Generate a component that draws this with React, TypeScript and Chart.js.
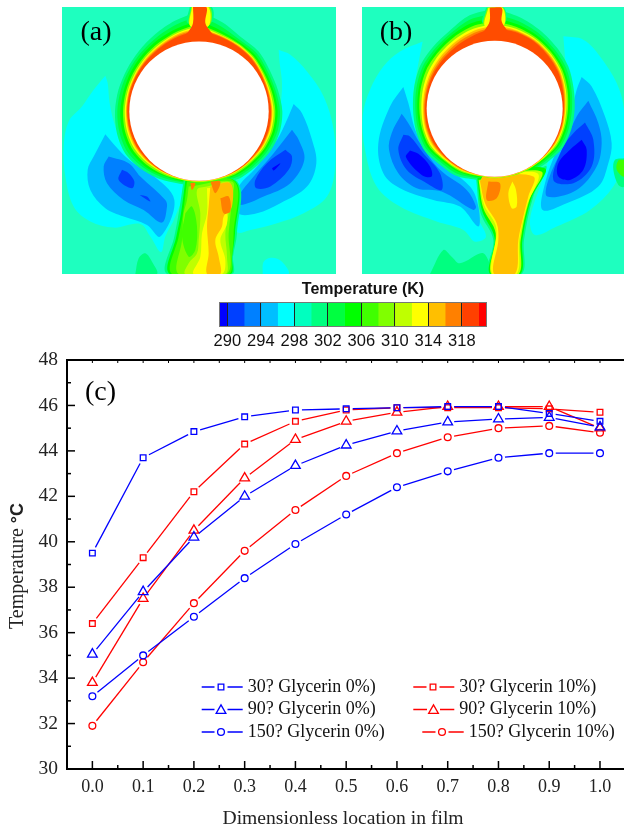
import React, { useEffect, useRef } from "react";
import { Chart, registerables } from "chart.js";
import { drawPoint } from "chart.js/helpers";

Chart.register(...registerables);

// ---------- Line chart data ----------
const locations = [0, 0.1, 0.2, 0.3, 0.4, 0.5, 0.6, 0.7, 0.8, 0.9, 1.0];
const minorLocations = [0.05, 0.15, 0.25, 0.35, 0.45, 0.55, 0.65, 0.75, 0.85, 0.95];
const minorTemps = [31, 33, 35, 37, 39, 41, 43, 45, 47];
const blue30 = [39.5, 43.7, 44.85, 45.5, 45.8, 45.85, 45.9, 45.95, 45.95, 45.65, 45.3];
const red30 = [36.4, 39.3, 42.2, 44.3, 45.3, 45.8, 45.9, 45.9, 45.9, 45.85, 45.7];
const blue90 = [35.05, 37.8, 40.2, 42.0, 43.35, 44.25, 44.87, 45.27, 45.4, 45.47, 45.05];
const red90 = [33.8, 37.5, 40.5, 42.8, 44.5, 45.3, 45.7, 45.95, 45.95, 45.95, 45.0];
const blue150 = [33.2, 35.0, 36.7, 38.4, 39.9, 41.2, 42.4, 43.1, 43.7, 43.9, 43.9];
const red150 = [31.9, 34.7, 37.3, 39.6, 41.4, 42.9, 43.9, 44.6, 45.0, 45.1, 44.8];
const seriesLabels = [
  "30? Glycerin 0%)", "30? Glycerin 10%)",
  "90? Glycerin 0%)", "90? Glycerin 10%)",
  "150? Glycerin 0%)", "150? Glycerin 10%)",
];

// ---------- Colour bar data ----------
const barEdges = [289, 290, 292, 294, 296, 298, 300, 302, 304, 306, 308, 310, 312, 314, 316, 318, 320, 321];
const barColors = ["#0000ff", "#0040ff", "#0080ff", "#00bfff", "#00ffff", "#00ffbf", "#00ff80", "#00ff40", "#00ff00", "#40ff00", "#80ff00", "#bfff00", "#ffff00", "#ffbf00", "#ff8000", "#ff4000", "#ff0000"];
const barTicks = [290, 294, 298, 302, 306, 310, 314, 318];

// ---------- Contour data: temperature band outlines ----------
type P = [number, number];
const C = { b0: "#0000ff", b1: "#0040ff", b2: "#0080ff", b3: "#00bfff", c: "#00ffff", m: "#1effbf", g0: "#00ff80", g1: "#00ff40", g2: "#00ff00", g3: "#40ff00", g4: "#80ff00", g5: "#bfff00", y: "#ffff00", o0: "#ffbf00", o1: "#ff8000", r: "#ff4c00" };

const ringA: [string, number[]][] = [
  [C.g0, [300, 275, 255, 253, 245, 245, 250, 250, 245, 238, 235, 225, 225, 225, 235, 245, 255, 255, 252, 250, 250, 255, 265, 280]],
  [C.g1, [285, 262, 246, 245, 238, 238, 243, 243, 238, 232, 228, 220, 220, 220, 228, 238, 247, 247, 245, 243, 243, 247, 255, 268]],
  [C.g2, [272, 250, 240, 238, 232, 232, 236, 236, 232, 226, 222, 216, 216, 216, 222, 232, 238, 238, 236, 234, 236, 240, 247, 256]],
  [C.g4, [262, 242, 235, 232, 226, 226, 229, 229, 226, 220, 218, 213, 213, 213, 218, 225, 230, 230, 228, 227, 228, 232, 238, 248]],
  [C.y, [255, 238, 232, 228, 222, 221, 224, 224, 221, 216, 214, 211, 211, 211, 214, 219, 224, 224, 223, 222, 223, 227, 233, 243]],
];
const ringAHot: [string, number[]][] = [
  [C.o0, [250, 236, 230, 226, 220, 218, 220, 220, 218, 214, 212, 210, 210, 210, 212, 216, 220, 220, 219, 219, 220, 224, 230, 240]],
  [C.o1, [246, 234, 228, 224, 218, 216, 218, 218, 216, 212, 211, 209, 209, 209, 211, 214, 217, 217, 217, 217, 218, 221, 227, 236]],
  [C.r, [242, 232, 226, 222, 216, 214, 216, 216, 214, 211, 210, 208, 208, 208, 210, 212, 215, 215, 215, 215, 216, 219, 224, 232]],
];
const ringB: [string, number[]][] = [
  [C.g0, [300, 285, 272, 262, 255, 245, 240, 238, 235, 225, 220, 220, 220, 220, 232, 235, 245, 245, 245, 250, 258, 262, 270, 290]],
  [C.g1, [285, 272, 262, 253, 247, 238, 232, 230, 228, 219, 215, 215, 215, 215, 225, 228, 238, 238, 238, 243, 250, 254, 262, 278]],
  [C.g2, [272, 262, 254, 246, 240, 232, 226, 224, 222, 214, 211, 211, 211, 211, 218, 222, 232, 232, 232, 236, 243, 247, 255, 266]],
  [C.g4, [262, 254, 247, 240, 234, 226, 220, 218, 217, 210, 208, 208, 208, 208, 214, 217, 226, 226, 226, 230, 236, 240, 247, 256]],
  [C.y, [255, 248, 242, 235, 229, 221, 215, 214, 213, 208, 206, 206, 206, 206, 211, 214, 221, 221, 220, 223, 228, 233, 240, 248]],
];
const ringBHot: [string, number[]][] = [
  [C.o0, [250, 244, 239, 232, 226, 218, 212, 211, 210, 206, 205, 205, 205, 205, 209, 211, 216, 216, 215, 217, 221, 226, 233, 242]],
  [C.o1, [246, 241, 236, 229, 223, 215, 210, 209, 208, 205, 204, 204, 204, 204, 207, 209, 213, 213, 212, 213, 216, 220, 227, 236]],
  [C.r, [242, 238, 234, 226, 220, 212, 208, 207, 206, 204, 203, 203, 203, 203, 205, 207, 210, 210, 209, 210, 212, 215, 221, 230]],
];

const coldA: [string, P[]][] = [
  [C.c, [[165, 228], [130, 270], [95, 320], [55, 365], [40, 440], [45, 530], [70, 620], [120, 665], [190, 683], [270, 672], [300, 710], [332, 757], [345, 710], [375, 650], [400, 560], [340, 500], [230, 450], [195, 380], [178, 310], [172, 250]]],
  [C.c, [[685, 150], [720, 165], [770, 215], [820, 290], [850, 390], [855, 500], [830, 590], [760, 640], [680, 670], [600, 690], [560, 695], [555, 560], [640, 480], [680, 400], [690, 330], [695, 250], [688, 190]]],
  [C.c, [[637, 822], [640, 785], [665, 773], [695, 785], [715, 822]]],
  [C.g0, [[255, 822], [265, 775], [285, 760], [305, 785], [320, 822]]],
  [C.b3, [[165, 403], [130, 470], [112, 510], [120, 570], [165, 625], [220, 650], [290, 675], [330, 710], [372, 600], [300, 520], [250, 490], [215, 460]]],
  [C.b3, [[730, 313], [755, 340], [785, 420], [798, 490], [770, 560], [690, 610], [620, 640], [565, 640], [560, 570], [620, 500], [680, 420], [710, 360]]],
  [C.b2, [[175, 470], [160, 500], [170, 550], [220, 600], [280, 630], [335, 668], [350, 620], [345, 600], [270, 530], [235, 490]]],
  [C.b2, [[725, 390], [745, 420], [762, 480], [720, 550], [640, 590], [570, 615], [565, 590], [610, 530], [670, 460]]],
  [C.b1, [[215, 510], [205, 540], [245, 565], [252, 545], [235, 520]]],
  [C.b1, [[268, 585], [300, 605], [290, 590]]],
  [C.b1, [[705, 450], [725, 470], [715, 510], [660, 560], [618, 565], [615, 540], [650, 490]]],
  [C.b0, [[665, 505], [690, 490], [670, 512]]],
];
const stemA: [string, P[]][] = [
  [C.g0, [[400, 540], [385, 640], [372, 710], [350, 822], [545, 822], [548, 770], [560, 700], [560, 545]]],
  [C.g2, [[405, 542], [392, 640], [378, 710], [358, 822], [540, 822], [545, 770], [554, 700], [556, 545]]],
  [C.g3, [[410, 545], [398, 640], [385, 710], [365, 822], [535, 822], [545, 770], [550, 700], [553, 545]]],
  [C.g4, [[415, 560], [410, 600], [400, 640], [395, 720], [385, 822], [530, 822], [535, 700], [545, 600], [545, 545]]],
  [C.g3, [[405, 640], [425, 620], [440, 680], [435, 750], [415, 770], [395, 710]]],
  [C.g5, [[470, 560], [440, 570], [450, 640], [445, 720], [440, 760], [415, 790], [405, 822], [525, 822], [530, 770], [525, 700], [535, 640], [540, 550]]],
  [C.y, [[470, 565], [470, 640], [455, 700], [450, 770], [430, 822], [515, 822], [525, 780], [510, 720], [530, 670], [530, 600], [540, 560]]],
  [C.o0, [[480, 560], [475, 620], [470, 680], [475, 760], [470, 822], [510, 822], [505, 770], [495, 720], [515, 680], [520, 650], [545, 620], [540, 550]]],
  [C.o1, [[510, 595], [535, 590], [540, 635], [520, 640]]],
  [C.o1, [[480, 545], [510, 545], [495, 580]]],
  [C.o1, [[420, 550], [435, 550], [425, 570]]],
];
const neckA: [string, P[]][] = [
  [C.g0, [[418, 22], [484, 22], [482, 70], [412, 70]]],
  [C.g4, [[423, 22], [478, 22], [478, 75], [418, 75]]],
  [C.y, [[425, 22], [474, 22], [474, 80], [420, 80]]],
];
const neckARed: P[] = [[428, 22], [468, 22], [465, 70], [480, 95], [495, 118], [395, 118], [415, 95], [428, 70]];

const coldB: [string, P[]][] = [
  [C.c, [[218, 125], [150, 155], [100, 200], [60, 270], [38, 350], [45, 450], [80, 560], [150, 620], [260, 665], [340, 690], [375, 725], [408, 710], [380, 640], [400, 520], [280, 470], [210, 390], [190, 300], [200, 220]]],
  [C.c, [[640, 110], [700, 120], [750, 170], [800, 250], [822, 330], [822, 480], [790, 560], [720, 630], [620, 680], [555, 705], [540, 660], [570, 560], [600, 470], [650, 370], [650, 250]]],
  [C.g0, [[240, 822], [280, 750], [305, 770], [330, 790], [400, 760], [415, 822]]],
  [C.g0, [[822, 475], [795, 480], [790, 510], [805, 555], [822, 560]]],
  [C.g3, [[822, 480], [805, 482], [800, 510], [822, 530]]],
  [C.b3, [[160, 262], [120, 320], [85, 430], [100, 520], [150, 565], [250, 600], [330, 620], [385, 680], [385, 620], [360, 560], [250, 470], [200, 400], [175, 310]]],
  [C.b3, [[695, 232], [725, 260], [765, 350], [785, 430], [775, 490], [745, 560], [650, 610], [578, 630], [585, 550], [620, 450], [660, 350], [680, 270]]],
  [C.b2, [[155, 342], [125, 400], [117, 450], [145, 520], [200, 565], [275, 575], [370, 630], [378, 620], [350, 570], [270, 510], [210, 430], [175, 370]]],
  [C.b2, [[715, 303], [745, 370], [755, 430], [740, 500], [680, 570], [592, 590], [595, 540], [640, 440], [680, 350]]],
  [C.b1, [[160, 405], [145, 450], [170, 510], [230, 550], [275, 570], [270, 520], [220, 460], [180, 410]]],
  [C.b1, [[705, 368], [730, 420], [725, 500], [670, 550], [610, 540], [640, 440], [670, 400]]],
  [C.b0, [[180, 452], [168, 472], [215, 525], [245, 530], [240, 500], [205, 462]]],
  [C.b0, [[695, 420], [710, 450], [700, 510], [660, 540], [625, 530], [625, 490], [660, 450]]],
];
const stemB: [string, P[]][] = [
  [C.g0, [[378, 535], [392, 640], [430, 720], [415, 822], [515, 822], [522, 720], [550, 590], [590, 500], [540, 520]]],
  [C.g2, [[382, 535], [396, 632], [434, 716], [420, 822], [511, 822], [517, 720], [544, 596], [584, 505]]],
  [C.g5, [[386, 540], [400, 625], [437, 700], [424, 822], [506, 822], [512, 720], [538, 600], [574, 515]]],
  [C.y, [[388, 545], [403, 617], [439, 685], [427, 822], [500, 822], [508, 720], [530, 620], [562, 520]]],
  [C.o0, [[390, 545], [405, 610], [440, 670], [445, 720], [432, 822], [495, 822], [505, 720], [520, 650], [535, 590], [550, 530], [400, 530]]],
  [C.y, [[487, 545], [475, 580], [485, 625], [500, 620], [498, 570]]],
  [C.o1, [[415, 545], [410, 600], [440, 595], [450, 550]]],
];
const neckB: [string, P[]][] = [
  [C.g0, [[408, 24], [462, 24], [464, 70], [398, 70]]],
  [C.g4, [[412, 24], [460, 24], [462, 75], [402, 75]]],
  [C.y, [[415, 24], [458, 24], [460, 80], [405, 80]]],
];
const neckBRed: P[] = [[419, 24], [455, 24], [455, 65], [470, 90], [490, 115], [385, 115], [405, 90], [419, 65]];

// ---------- Helpers ----------
const font = (size: number, family: string, weight = "normal") => ({ size, family, weight, lineHeight: 1.2 });
const SERIF = "'Liberation Serif'";
const SANS = "'Liberation Sans'";

const ringPoints = (cx: number, cy: number, radii: number[]) => {
  const pts = radii.map((r, i) => {
    const a = (i * 15 * Math.PI) / 180;
    return { x: cx + r * Math.sin(a), y: cy - r * Math.cos(a) };
  });
  return [...pts, pts[0]];
};
const polyDataset = (color: string, data: { x: number; y: number }[], tension = 0.35) => ({
  data, showLine: true, fill: "shape", backgroundColor: color, borderWidth: 0, pointRadius: 0, tension,
});
const poly = ([color, pts]: [string, P[]]) => {
  const data = pts.map(([x, y]) => ({ x, y }));
  return polyDataset(color, [...data, data[0]]);
};

const panelLabel = (text: string, x: number, y: number) => ({
  id: "panelLabel",
  afterDraw(chart: any) {
    const { ctx, scales } = chart;
    ctx.save();
    ctx.fillStyle = "#000";
    ctx.font = `28px ${SERIF}`;
    ctx.textAlign = "center";
    ctx.textBaseline = "middle";
    ctx.fillText(text, scales.x.getPixelForValue(x), scales.y.getPixelForValue(y));
    ctx.restore();
  },
});

function panelConfig(layers: any[], disc: { x: number; y: number }, discRadius: number, range: number[], label: any) {
  const datasets = [
    ...layers,
    { data: [disc], pointRadius: discRadius, pointBackgroundColor: "#fff", pointBorderWidth: 0, pointHoverRadius: discRadius },
  ].map((d, i, all) => ({ ...d, order: all.length - i }));
  return {
    type: "scatter",
    data: { datasets },
    options: {
      responsive: false, animation: false, events: [],
      layout: { padding: 0, autoPadding: false },
      plugins: { legend: { display: false }, tooltip: { enabled: false } },
      scales: {
        x: { type: "linear", display: false, min: range[0], max: range[1] },
        y: { type: "linear", display: false, min: range[2], max: range[3], reverse: true },
      },
    },
    plugins: [label],
  };
}

const seriesStyles = [
  { data: blue30, color: "#0000ff", style: "rect", r: 4 },
  { data: red30, color: "#ff0000", style: "rect", r: 4 },
  { data: blue90, color: "#0000ff", style: "triangle", r: 5.6 },
  { data: red90, color: "#ff0000", style: "triangle", r: 5.6 },
  { data: blue150, color: "#0000ff", style: "circle", r: 3.4 },
  { data: red150, color: "#ff0000", style: "circle", r: 3.4 },
];

const GAP = 6.5;
const gapped = (ctx: any) => {
  const L = Math.hypot(ctx.p1.x - ctx.p0.x, ctx.p1.y - ctx.p0.y);
  const len = Math.max(L - 2 * GAP, 0.01) + ctx.p0DataIndex * 1e-3;
  return [len, 2000];
};

const axisMarks = {
  id: "axisMarks",
  afterDraw(chart: any) {
    const { ctx, chartArea: a, scales } = chart;
    ctx.save();
    ctx.strokeStyle = "#000";
    const line = (x0: number, y0: number, x1: number, y1: number, w: number) => {
      ctx.lineWidth = w;
      ctx.beginPath(); ctx.moveTo(x0, y0); ctx.lineTo(x1, y1); ctx.stroke();
    };
    line(a.left - 1, a.top, a.right, a.top, 2);
    locations.forEach((v) => {
      const x = scales.x.getPixelForValue(v);
      line(x, a.bottom, x, a.bottom - 8, 1.5);
      line(x, a.top, x, a.top + 3, 1);
    });
    minorLocations.forEach((v) => {
      const x = scales.x.getPixelForValue(v);
      line(x, a.bottom, x, a.bottom - 4, 1.5);
      line(x, a.top, x, a.top + 3, 1);
    });
    [30, 32, 34, 36, 38, 40, 42, 44, 46].forEach((v) => {
      const y = scales.y.getPixelForValue(v);
      line(a.left, y, a.left + 8, y, 1.5);
    });
    minorTemps.forEach((v) => {
      const y = scales.y.getPixelForValue(v);
      line(a.left, y, a.left + 4, y, 1.5);
    });
    // panel tag
    ctx.fillStyle = "#000";
    ctx.font = `28px ${SERIF}`;
    ctx.textAlign = "left";
    ctx.textBaseline = "middle";
    ctx.fillText("(c)", 85, 393 - chart.canvas.offsetTop);
    // y title, two fonts as in the picture
    ctx.save();
    ctx.translate(18, 566 - chart.canvas.offsetTop);
    ctx.rotate(-Math.PI / 2);
    ctx.fillStyle = "#222";
    ctx.textBaseline = "middle";
    ctx.textAlign = "left";
    ctx.font = `20px ${SERIF}`;
    const t = "Temperature ";
    const w1 = ctx.measureText(t).width;
    ctx.font = `bold 18px ${SANS}`;
    const w2 = ctx.measureText("°C").width;
    const start = -(w1 + w2) / 2;
    ctx.font = `20px ${SERIF}`;
    ctx.fillText(t, start, 0);
    ctx.font = `bold 18px ${SANS}`;
    ctx.fillText("°C", start + w1, 0);
    ctx.restore();
    // legend
    const rows = [687, 709.5, 732];
    const layout = [
      [201.7, 221, 242.7, 247.7, 0], [413.3, 433, 454.3, 459.3, 0],
      [201.7, 221, 242.7, 247.7, 1], [413.3, 433.5, 454.3, 459.3, 1],
      [201.7, 221, 242.7, 247.7, 2], [422.3, 442, 463.7, 468.7, 2],
    ];
    seriesLabels.forEach((label, i) => {
      const [x0, mx, x1, tx, row] = layout[i];
      const y = rows[row] - chart.canvas.offsetTop;
      const s = seriesStyles[i];
      ctx.strokeStyle = s.color;
      ctx.fillStyle = "#fff";
      ctx.lineWidth = 1.3;
      ctx.beginPath();
      ctx.moveTo(x0, y); ctx.lineTo(mx - 6.5, y);
      ctx.moveTo(mx + 6.5, y); ctx.lineTo(x1, y);
      ctx.stroke();
      drawPoint(ctx, { pointStyle: s.style, radius: s.r, borderWidth: 1.3, rotation: 0 }, mx, y + (s.style === "triangle" ? 1 : 0));
      ctx.fillStyle = "#111";
      ctx.font = `18px ${SERIF}`;
      ctx.textAlign = "left";
      ctx.textBaseline = "middle";
      ctx.fillText(label, tx, y);
    });
    ctx.restore();
  },
};

const barFrame = {
  id: "barFrame",
  afterDraw(chart: any) {
    const { ctx, chartArea: a } = chart;
    ctx.save();
    ctx.strokeStyle = "#777";
    ctx.lineWidth = 1;
    ctx.strokeRect(a.left + 0.5, a.top + 0.5, a.right - a.left - 1, a.bottom - a.top - 1);
    ctx.fillStyle = "#111";
    ctx.font = `bold 16px ${SANS}`;
    ctx.textAlign = "center";
    ctx.textBaseline = "middle";
    ctx.fillText("Temperature (K)", a.left + 144, 10);
    ctx.restore();
  },
};

function useChart(ref: React.RefObject<HTMLCanvasElement | null>, make: () => any) {
  useEffect(() => {
    if (!ref.current) return;
    const chart = new Chart(ref.current, make());
    return () => chart.destroy();
  }, []);
}

export default function App() {
  const aRef = useRef<HTMLCanvasElement>(null);
  const bRef = useRef<HTMLCanvasElement>(null);
  const barRef = useRef<HTMLCanvasElement>(null);
  const mainRef = useRef<HTMLCanvasElement>(null);

  useChart(aRef, () => {
    const ring = ([c, r]: [string, number[]]) => polyDataset(c, ringPoints(446, 334, r), 0.3);
    const layers = [
      ...coldA.map(poly),
      ...ringA.slice(0, 3).map(ring),
      ...stemA.map(poly),
      ...ringA.slice(3).map(ring),
      ...neckA.map(poly),
      ...ringAHot.map(ring),
      poly([C.r, neckARed]),
    ];
    return panelConfig(layers, { x: 446, y: 334 }, 69.7, [35, 857, 22, 822], panelLabel("(a)", 137, 100));
  });
  useChart(bRef, () => {
    const ring = ([c, r]: [string, number[]]) => polyDataset(c, ringPoints(434, 327, r), 0.3);
    const layers = [
      ...coldB.map(poly),
      ...ringB.slice(0, 3).map(ring),
      ...stemB.map(poly),
      ...ringB.slice(3).map(ring),
      ...neckB.map(poly),
      ...ringBHot.map(ring),
      poly([C.r, neckBRed]),
    ];
    return panelConfig(layers, { x: 434, y: 327 }, 68, [36, 822, 22, 822], panelLabel("(b)", 138, 100));
  });
  useChart(barRef, () => ({
    type: "bar",
    data: {
      labels: ["T"],
      datasets: barColors.map((c, i) => ({
        data: [[barEdges[i], barEdges[i + 1]]],
        backgroundColor: c, borderWidth: 0, barPercentage: 1, categoryPercentage: 1, grouped: false,
      })),
    },
    options: {
      indexAxis: "y", responsive: false, animation: false, events: [],
      layout: { padding: { left: 6, right: 26, top: 22, bottom: 0 }, autoPadding: false },
      plugins: { legend: { display: false }, tooltip: { enabled: false } },
      scales: {
        y: { display: false },
        x: {
          type: "linear", min: 289, max: 321,
          afterBuildTicks: (s: any) => { s.ticks = barTicks.map((value) => ({ value })); },
          afterFit: (s: any) => { s.height = 25; s.paddingLeft = 0; s.paddingRight = 0; },
          grid: { color: "#222", lineWidth: 1, z: 1, drawTicks: false },
          border: { display: false },
          ticks: { color: "#111", font: font(16.5, SANS), padding: 5, autoSkip: false, maxRotation: 0, callback: (v: any) => String(v) },
        },
      },
    },
    plugins: [barFrame],
  }));
  useChart(mainRef, () => ({
    type: "line",
    data: {
      labels: locations,
      datasets: seriesStyles.map((s, i) => ({
        label: seriesLabels[i],
        data: locations.map((x, k) => ({ x, y: s.data[k] })),
        borderColor: s.color, borderWidth: 1.3,
        pointStyle: s.style, pointRadius: s.r, pointBorderColor: s.color, pointBorderWidth: 1.3,
        pointBackgroundColor: "rgba(255,255,255,0)",
        segment: { borderDash: gapped, borderDashOffset: -GAP },
        clip: false,
      })),
    },
    options: {
      responsive: false, animation: false, events: [],
      layout: { padding: { top: 8, right: 0, left: 0, bottom: 0 }, autoPadding: false },
      plugins: { legend: { display: false }, tooltip: { enabled: false } },
      scales: {
        x: {
          type: "linear", min: -0.05, max: 1.0473,
          afterBuildTicks: (s: any) => { s.ticks = locations.map((value) => ({ value })); },
          afterFit: (s: any) => { s.height = 61; s.paddingLeft = 0; s.paddingRight = 0; },
          grid: { display: false, drawTicks: false },
          border: { color: "#000", width: 2 },
          ticks: { color: "#222", font: font(18, SERIF), padding: 7, autoSkip: false, maxRotation: 0, callback: (v: any) => Number(v).toFixed(1) },
          title: { display: true, text: "Dimensionless location in film\u00A0", color: "#222", font: font(19.6, SERIF), padding: { top: 0, bottom: -1 } },
        },
        y: {
          type: "linear", min: 30, max: 48,
          afterFit: (s: any) => { s.width = 67; s.paddingTop = 0; s.paddingBottom = 0; },
          grid: { display: false, drawTicks: false },
          border: { color: "#000", width: 2 },
          ticks: { stepSize: 2, color: "#222", font: font(19.5, SERIF), padding: 9 },
        },
      },
    },
    plugins: [axisMarks],
  }));

  const abs = (left: number, top: number): React.CSSProperties => ({ position: "absolute", left, top, display: "block" });
  return (
    <div style={{ position: "absolute", left: 0, top: 0, width: 624, height: 830, overflow: "hidden", background: "#fff" }}>
      <canvas ref={aRef} width={274} height={267} style={{ ...abs(62, 7), background: C.m }} />
      <canvas ref={bRef} width={262} height={267} style={{ ...abs(362, 7), background: C.m }} />
      <canvas ref={barRef} width={300} height={72} style={abs(213, 280)} />
      <canvas ref={mainRef} width={624} height={478} style={abs(0, 352)} />
    </div>
  );
}
